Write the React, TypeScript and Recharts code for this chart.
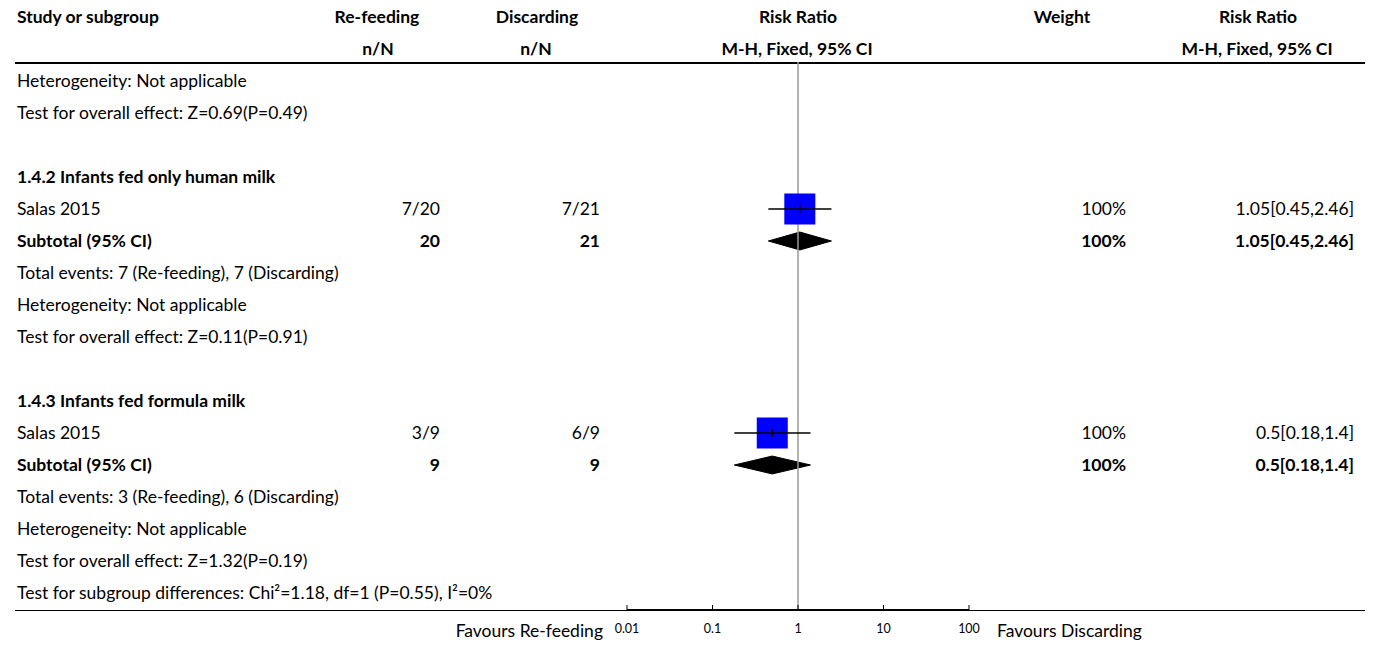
import React from 'react';
import { ComposedChart, Scatter, Area, XAxis, YAxis, ReferenceLine } from 'recharts';

// table rows (row index 0 = first line under the header)
const rowLabels = [
  'Heterogeneity: Not applicable',
  'Test for overall effect: Z=0.69(P=0.49)',
  '',
  '1.4.2 Infants fed only human milk',
  'Salas 2015',
  'Subtotal (95% CI)',
  'Total events: 7 (Re-feeding), 7 (Discarding)',
  'Heterogeneity: Not applicable',
  'Test for overall effect: Z=0.11(P=0.91)',
  '',
  '1.4.3 Infants fed formula milk',
  'Salas 2015',
  'Subtotal (95% CI)',
  'Total events: 3 (Re-feeding), 6 (Discarding)',
  'Heterogeneity: Not applicable',
  'Test for overall effect: Z=1.32(P=0.19)',
  'Test for subgroup differences: Chi²=1.18, df=1 (P=0.55), I²=0%',
];
const boldRows = [3, 5, 10, 12];
const reFeedingCol = ['', '', '', '', '7/20', '20', '', '', '', '', '', '3/9', '9', '', '', '', ''];
const discardingCol = ['', '', '', '', '7/21', '21', '', '', '', '', '', '6/9', '9', '', '', '', ''];
const weightCol = ['', '', '', '', '100%', '100%', '', '', '', '', '', '100%', '100%', '', '', '', ''];
const rrCol = ['', '', '', '', '1.05[0.45,2.46]', '1.05[0.45,2.46]', '', '', '', '', '', '0.5[0.18,1.4]', '0.5[0.18,1.4]', '', '', '', ''];

// studies
const studyRows = [4, 11];
const studyRR = [1.05, 0.5];
const studyLo = [0.45, 0.18];
const studyHi = [2.46, 1.4];

// subtotals (diamonds)
const subRows = [5, 12];
const subRR = [1.05, 0.5];
const subLo = [0.45, 0.18];
const subHi = [2.46, 1.4];

const xTicks = [0.01, 0.1, 1, 10, 100];

const studyData = studyRows.map((r, i) => ({ x: studyRR[i], y: r }));
const ciLines = studyRows.map((r, i) => [
  { x: studyLo[i], y: r },
  { x: studyHi[i], y: r },
]);

const diamondHalf = 0.28;
const diamonds = subRows.map((r, i) => [
  { x: subLo[i], y: [r, r] },
  { x: subRR[i], y: [r - diamondHalf, r + diamondHalf] },
  { x: subHi[i], y: [r, r] },
]);

const W = 1375;
const H = 646;
const ROW0 = 81;
const ROWH = 32;
const PLOT_TOP = 62;
const PLOT_BOTTOM = 610;
const font = "'Source Sans Pro', Lato, sans-serif";

const rowTop = (i: number) => ROW0 + ROWH * i - 12;

const Square = (props: any) => {
  const { cx, cy } = props;
  return (
    <g>
      <rect x={cx - 15.5} y={cy - 15.5} width={31} height={31} fill="#0000ff" />
      <line x1={cx} x2={cx} y1={cy - 4} y2={cy + 4} stroke="#000" strokeWidth={1.5} />
    </g>
  );
};
const NoDot = () => <g />;

const cellBase: React.CSSProperties = { position: 'absolute', height: 24, lineHeight: '24px', whiteSpace: 'nowrap' };

const Right = ({ edge, top, bold, children }: any) => (
  <div style={{ ...cellBase, top, left: edge - 250, width: 250, textAlign: 'right', fontWeight: bold ? 700 : 400 }}>{children}</div>
);
const Center = ({ c, top, children }: any) => (
  <div style={{ ...cellBase, top, left: c - 150, width: 300, textAlign: 'center', fontWeight: 700 }}>{children}</div>
);

export default function App() {
  return (
    <div style={{ position: 'absolute', left: 0, top: 0, width: W, height: H, background: '#fff', fontFamily: font, fontSize: 17.5, color: '#000' }}>
      {/* header */}
      <div style={{ ...cellBase, top: rowTop(-2), left: 17, fontWeight: 700 }}>Study or subgroup</div>
      <Center c={377} top={rowTop(-2)}>Re-feeding</Center>
      <Center c={537} top={rowTop(-2)}>Discarding</Center>
      <Center c={798} top={rowTop(-2)}>Risk Ratio</Center>
      <Center c={1062} top={rowTop(-2)}>Weight</Center>
      <Center c={1258} top={rowTop(-2)}>Risk Ratio</Center>
      <Center c={378} top={rowTop(-1)}>n/N</Center>
      <Center c={536} top={rowTop(-1)}>n/N</Center>
      <Center c={797} top={rowTop(-1)}>M-H, Fixed, 95% CI</Center>
      <Center c={1257} top={rowTop(-1)}>M-H, Fixed, 95% CI</Center>
      <div style={{ position: 'absolute', left: 15, width: 1350, top: 62, height: 2, background: '#000' }} />

      {/* rows */}
      {rowLabels.map((t, i) => (
        <React.Fragment key={i}>
          <div style={{ ...cellBase, top: rowTop(i), left: 17, fontWeight: boldRows.includes(i) ? 700 : 400 }}>{t}</div>
          <Right edge={440} top={rowTop(i)} bold={boldRows.includes(i)}>{reFeedingCol[i]}</Right>
          <Right edge={600} top={rowTop(i)} bold={boldRows.includes(i)}>{discardingCol[i]}</Right>
          <Right edge={1126} top={rowTop(i)} bold={boldRows.includes(i)}>{weightCol[i]}</Right>
          <Right edge={1354} top={rowTop(i)} bold={boldRows.includes(i)}>{rrCol[i]}</Right>
        </React.Fragment>
      ))}

      <div style={{ position: 'absolute', left: 15, width: 1350, top: PLOT_BOTTOM - 0.5, height: 1.5, background: '#000' }} />
      <Right edge={603} top={619}>Favours Re-feeding</Right>
      <div style={{ ...cellBase, top: 619, left: 997 }}>Favours Discarding</div>

      <div style={{ position: 'absolute', left: 0, top: 0 }}>
        <ComposedChart
          width={W}
          height={H}
          margin={{ top: PLOT_TOP, right: W - 969, bottom: H - PLOT_BOTTOM - 30, left: 627 }}
        >
          <XAxis
            dataKey="x"
            type="number"
            scale="log"
            domain={[0.01, 100]}
            ticks={xTicks}
            allowDataOverflow
            height={30}
            tickSize={-5}
            tickMargin={19}
            tickFormatter={(v: number) => String(v)}
            axisLine={{ stroke: '#000', strokeWidth: 2 }}
            tickLine={{ stroke: '#000' }}
            tick={{ fontSize: 12.5, fill: '#000', fontFamily: font }}
          />
          <YAxis
            dataKey="y"
            type="number"
            reversed
            hide
            allowDataOverflow
            domain={[(PLOT_TOP - ROW0) / ROWH, (PLOT_BOTTOM - ROW0) / ROWH]}
          />
          <ReferenceLine x={1} stroke="#999" strokeWidth={1.5} />
          {diamonds.map((d, i) => (
            <Area
              key={'d' + i}
              data={d}
              dataKey="y"
              type="linear"
              fill="#000"
              fillOpacity={1}
              stroke="#000"
              strokeWidth={1}
              dot={false}
              activeDot={false}
              isAnimationActive={false}
            />
          ))}
          <Scatter data={studyData} shape={Square} isAnimationActive={false} />
          {ciLines.map((d, i) => (
            <Scatter
              key={'ci' + i}
              data={d}
              shape={NoDot}
              line={{ stroke: '#000', strokeWidth: 1.5 }}
              isAnimationActive={false}
            />
          ))}
        </ComposedChart>
      </div>
    </div>
  );
}
